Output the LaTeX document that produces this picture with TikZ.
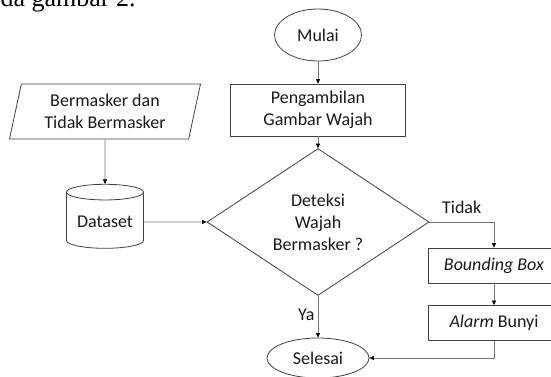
\documentclass[tikz,border=0pt]{standalone}
\usepackage{fontspec}
\setmainfont{Carlito}
\newfontfamily\paperfont{Liberation Serif}
\usetikzlibrary{shapes.geometric,positioning,arrows.meta}

\begin{document}
\begin{tikzpicture}[x=1pt, y=-1pt, node distance=75pt, on grid, auto,
    font=\fontsize{18}{22}\selectfont,
    every node/.style={text=black!90},
    shp/.style={draw=black!75, line width=0.8pt, align=center},
    term/.style={shp, ellipse, inner sep=0pt},
    proc/.style={shp, rectangle, minimum width=132pt, minimum height=35pt},
    decision/.style={shp, diamond, inner sep=0pt, minimum width=222pt, minimum height=115pt},
    io/.style={shp, trapezium, trapezium left angle=74, trapezium right angle=106,
        trapezium stretches body, minimum width=191pt, minimum height=55pt},
    db/.style={shp, cylinder, shape border rotate=90, aspect=0.25,
        minimum width=77pt, minimum height=64pt},
    line/.style={draw=black!55, line width=0.6pt, -{Triangle[length=4.5pt, width=4pt, fill=black, color=black]}}]

    \useasboundingbox (0,0) rectangle (551,376);

    \node[anchor=base west, text=black, font=\paperfont\fontsize{26}{30}\selectfont] (teks) at (-3,6) {da gambar 2.};

    % alur utama
    \node[term, minimum width=87pt, minimum height=52pt] (mulai) at (318,35) {Mulai};
    \node[proc, minimum width=175pt, minimum height=52pt] (ambil) [below=of mulai] {Pengambilan\\Gambar Wajah};
    \node[decision] (deteksi) [below=112pt of ambil] {Deteksi\\Wajah\\Bermasker ?};
    \node[term, minimum width=102pt, minimum height=40pt] (selesai) [below=136pt of deteksi] {Selesai};

    % data latih
    \node[db] (dataset) [left=213pt of deteksi] {Dataset};
    \node[io] (masker) [above=110.5pt of dataset] {Bermasker dan\\Tidak Bermasker};

    % cabang tidak
    \node[proc] (bbox) [below right=43.5pt and 176pt of deteksi] {\textit{Bounding Box}};
    \node[proc] (alarm) [below=57.5pt of bbox] {\textit{Alarm} Bunyi};

    \path[line]
        (mulai) edge (ambil)
        (ambil) edge (deteksi)
        (masker) edge (dataset)
        (dataset) edge (deteksi)
        (deteksi) edge node[left, pos=0.45] {Ya} (selesai)
        (bbox) edge (alarm);

    \draw[line] (deteksi.east) -| node[above=5pt, pos=0.25] {Tidak} (bbox.north);
    \draw[line] (alarm.south) |- (selesai.east);

\end{tikzpicture}
\end{document}
